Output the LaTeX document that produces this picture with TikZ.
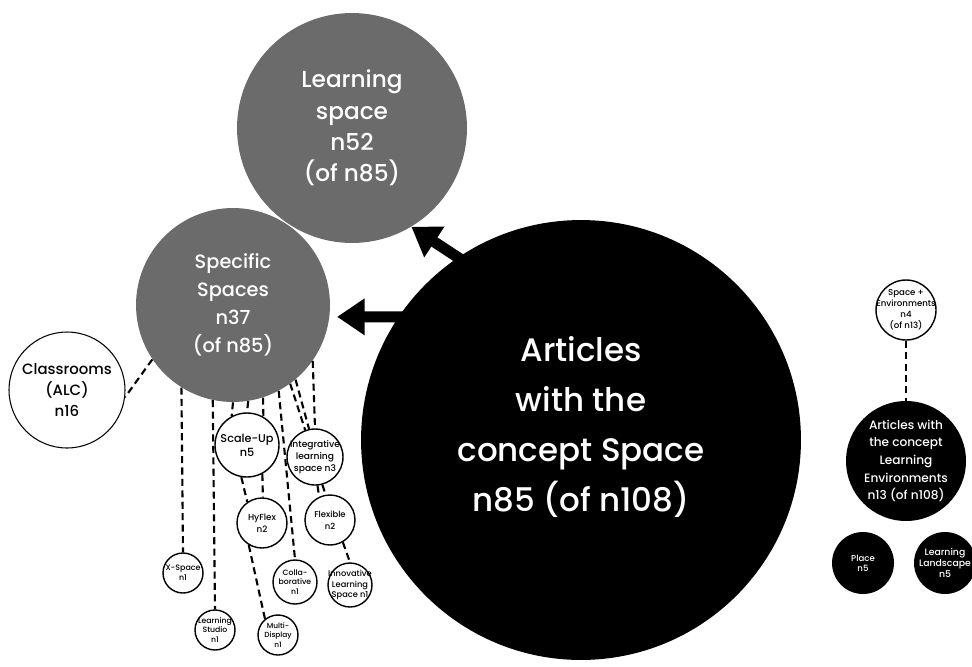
\documentclass[tikz,border=0pt]{standalone}
\usepackage{fontspec}
\setmainfont{Poppins}[UprightFont={* Medium}]
\usetikzlibrary{arrows.meta}
\definecolor{midgray}{gray}{0.42}

\begin{document}
\begin{tikzpicture}[x=0.02cm,y=-0.02cm]
	\tikzstyle{main}=[circle, inner sep=0mm, align=center, text=white]
	\tikzstyle{dark}=[main, fill=black]
	\tikzstyle{grey}=[main, fill=midgray]
	\tikzstyle{open}=[circle, inner sep=0mm, align=center, draw=black, thick, fill=white]
	\tikzstyle{tag}=[align=center, inner sep=0mm]
	\tikzstyle{connect}=[line width=1.2pt, dash pattern=on 4pt off 2.5pt]
	\tikzstyle{push}=[-{Triangle[length=0.55cm,width=0.7cm]}, line width=0.22cm]
	\useasboundingbox (0,0) rectangle (972,666);
	  % concept Space
	  \node[dark, minimum size=8.8cm] (big) at (581,440) [label={[tag,text=white,yshift=0.26cm,font=\fontsize{18.5}{28.3}\selectfont]center:Articles\\with the\\concept Space\\n85 (of n108)}] {};
	  \node[grey, minimum size=4.6cm, font=\fontsize{13.2}{17.8}\selectfont] (learn) at (352,128) {Learning\\space\\n52\\(of n85)};
	  \node[grey, minimum size=3.88cm, font=\fontsize{11}{16}\selectfont] (spec) at (233,305) {Specific\\Spaces\\n37\\(of n85)};
	  \node[open, semithick, minimum size=2.32cm, font=\fontsize{8.5}{12}\selectfont] (class) at (67,390) {Classrooms\\(ALC)\\n16};
	  \node[open, minimum size=1.28cm] (scale) at (247,445) [label={[tag,font=\fontsize{6.4}{7.8}\selectfont]center:Scale-Up\\n5}] {};
	  \node[open, minimum size=1.12cm] (integ) at (315,457) [label={[tag,font=\fontsize{5.2}{6.8}\selectfont]center:Integrative\\learning\\space n3}] {};
	  \node[open, minimum size=1.0cm] (hyflex) at (262,523) [label={[tag,font=\fontsize{5}{6.6}\selectfont]center:HyFlex\\n2}] {};
	  \node[open, minimum size=1.0cm] (flex) at (330,520) [label={[tag,font=\fontsize{4.8}{6.6}\selectfont]center:Flexible\\n2}] {};
	  \node[open, minimum size=0.8cm] (xspace) at (183,573) [label={[tag,font=\fontsize{4.5}{5.6}\selectfont]center:X-Space\\n1}] {};
	  \node[open, minimum size=0.8cm] (studio) at (215,630) [label={[tag,font=\fontsize{4.4}{5.4}\selectfont]center:Learning\\Studio\\n1}] {};
	  \node[open, minimum size=0.8cm] (multi) at (278,635) [label={[tag,font=\fontsize{4.2}{5.4}\selectfont]center:Multi-\\Display\\n1}] {};
	  \node[open, minimum size=0.88cm] (collab) at (295,582) [label={[tag,font=\fontsize{4.4}{5.6}\selectfont]center:Colla-\\borative\\n1}] {};
	  \node[open, minimum size=0.88cm] (innov) at (350,585) [label={[tag,font=\fontsize{4.7}{5.8}\selectfont]center:Innovative\\Learning\\Space n1}] {};
	  % concept Learning Environments
	  \node[dark, minimum size=2.4cm, font=\fontsize{6.9}{10}\selectfont] (le) at (906,461) {Articles with\\the concept\\Learning\\Environments\\n13 (of n108)};
	  \node[open, minimum size=1.2cm] (spenv) at (906,310) [label={[tag,font=\fontsize{4.9}{6.2}\selectfont]center:Space +\\Environments\\n4\\(of n13)}] {};
	  \node[dark, minimum size=1.24cm] (place) at (863,563) [label={[tag,text=white,font=\fontsize{4.9}{5.8}\selectfont]center:Place\\n5}] {};
	  \node[dark, minimum size=1.24cm] (land) at (945,563) [label={[tag,text=white,font=\fontsize{5.3}{6.2}\selectfont]center:Learning\\Landscape\\n5}] {};
	  \path
	    (spec.-146) edge [connect] (class.-7)
	    (spec.-122) edge [connect] (xspace.north)
	    (spec.-102) edge [connect] (studio.north)
	    (spec.-90) edge [connect] (scale.118)
	    (spec.-81) edge [connect] (scale.90)
	    (spec.-72) edge [connect] (scale.60)
	    (spec.-62) edge [connect] (collab.north)
	    (spec.-54) edge [connect] (integ.110)
	    (spec.-50) edge [connect] (integ.102)
	    (spec.-35) edge [connect] (integ.north)
	    (scale.-100) edge [connect] (hyflex.125)
	    (scale.-62) edge [connect] (hyflex.88)
	    (hyflex.-121) edge [connect] (multi.129)
	    (integ.-85) edge [connect] (flex.115)
	    (integ.-75) edge [connect] (flex.100)
	    (flex.-60) edge [connect] (innov.north)
	    (spenv.south) edge [connect] (le.north);
	  \draw[push, shorten <=-0.2cm] (big.124) -- (learn.-59);
	  \draw[push, shorten <=-0.2cm, shorten >=0.15cm] (big.146) -- (spec.-7);
\end{tikzpicture}
\end{document}
